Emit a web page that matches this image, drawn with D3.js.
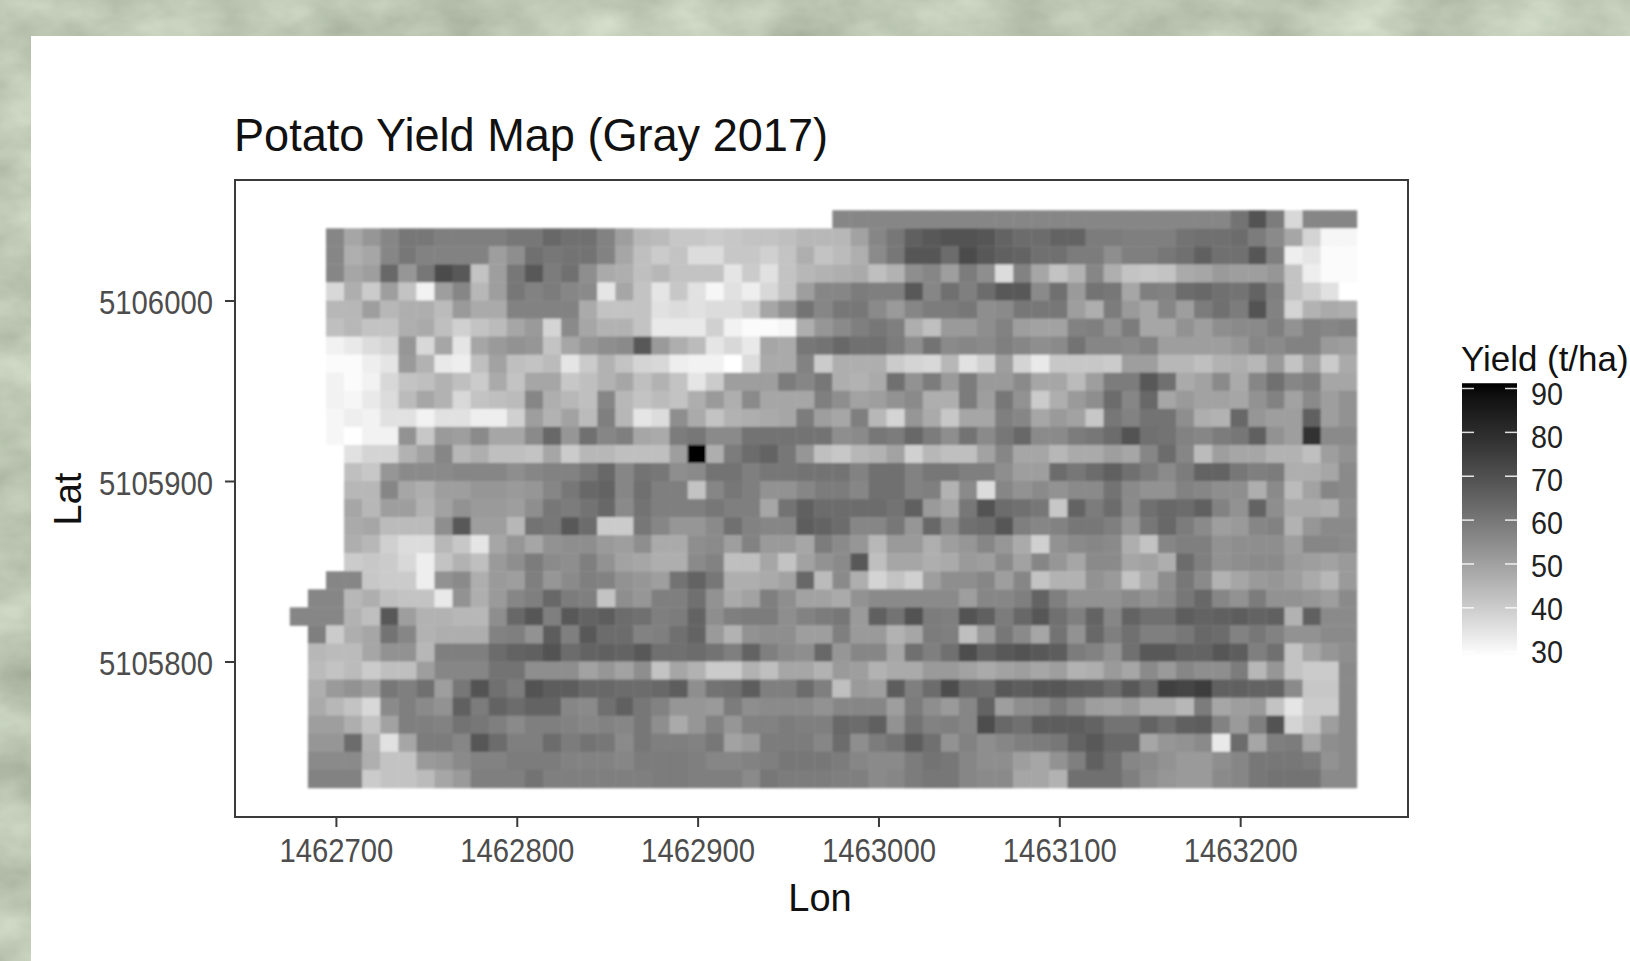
<!DOCTYPE html>
<meta charset="utf-8">
<style>
html, body { margin: 0; padding: 0; background: #bfc8b3; overflow: hidden; }
text { font-family: "Liberation Sans", Arial, sans-serif; }
</style>
<body>
<script src="https://d3js.org/d3.v7.min.js"></script>
<script>
var _ = null;

var titleText = "Potato Yield Map (Gray 2017)";
var xLabel = "Lon";
var yLabel = "Lat";
var legendTitle = "Yield (t/ha)";
var xTicks = [1462700, 1462800, 1462900, 1463000, 1463100, 1463200];
var yTicks = [5106000, 5105900, 5105800];
var legendTicks = [30, 40, 50, 60, 70, 80, 90];
var yieldRange = [28.8, 91.2];

// centre of each cell, 10 m grid
var lons = d3.range(59).map(function(i) { return 1462679.5 + i * 10; });
var lats = d3.range(32).map(function(i) { return 5106045 - i * 10; });

// yield, one line per row from north to south
var yieldRows = [
[_,_,_,_,_,_,_,_,_,_,_,_,_,_,_,_,_,_,_,_,_,_,_,_,_,_,_,_,_,_,58,58,58,58,58,58,58,58,58,58,58,58,58,58,58,58,58,58,58,58,58,58,63,72,61,38,58,58,58],
[_,_,58,50,54,58,62,62,60,60,60,60,62,62,66,64,64,59,52,46,45,42,42,41,42,43,43,44,46,46,46,51,58,62,68,70,72,72,71,67,65,65,67,67,61,61,60,60,60,63,64,64,65,61,57,50,39,31,31],
[_,_,58,48,50,58,62,59,59,59,59,52,56,64,62,63,63,59,50,44,41,43,37,37,42,42,40,43,48,43,45,48,57,62,71,71,65,74,70,68,67,64,64,61,61,56,60,60,62,64,68,64,64,71,60,33,35,30,30],
[_,_,58,50,52,66,54,62,74,70,43,52,62,70,61,64,56,49,48,44,46,43,43,43,35,41,36,43,46,47,48,49,44,47,56,58,52,61,56,37,59,50,43,47,58,48,43,42,43,49,50,53,52,52,54,43,33,30,30],
[_,_,38,48,41,52,43,32,52,58,46,52,62,59,61,58,57,35,50,43,35,42,36,31,36,33,38,43,52,58,58,61,60,60,70,58,64,60,65,70,70,57,64,53,63,62,50,60,59,65,66,64,63,67,60,43,40,36,29],
[_,_,46,46,52,46,48,48,45,53,49,49,59,59,59,59,49,43,43,43,36,37,36,37,37,40,50,55,63,58,62,62,57,53,58,61,61,62,56,57,62,62,62,52,48,61,53,50,58,52,61,64,61,72,59,39,47,49,48],
[_,_,44,46,43,43,48,49,44,40,43,45,50,53,39,57,50,47,47,43,34,34,34,40,32,30,30,31,48,54,57,60,62,60,48,44,53,53,56,59,52,51,51,59,60,55,61,50,50,55,52,56,57,57,60,55,59,58,59],
[_,_,32,34,37,39,54,38,50,35,50,53,55,54,43,50,54,56,57,70,53,48,45,35,38,34,50,49,62,63,66,64,64,61,56,63,57,58,57,60,58,56,57,63,58,58,57,59,52,52,52,52,54,58,57,59,59,53,52],
[_,_,30,30,33,35,53,47,34,33,44,51,44,43,45,35,41,47,43,39,38,33,32,32,29,37,49,49,59,41,48,48,48,41,39,38,46,36,40,52,39,34,42,42,42,41,52,52,46,46,44,47,48,46,53,43,51,41,49],
[_,_,32,30,32,38,43,44,47,44,41,49,43,50,50,42,44,47,50,44,47,43,35,41,52,52,52,61,58,62,48,47,49,64,55,61,53,61,53,53,57,50,50,45,52,61,61,70,64,49,51,57,49,58,64,58,60,50,50],
[_,_,32,31,34,37,45,50,47,38,43,44,45,58,48,46,44,58,46,43,45,43,48,53,48,57,50,50,50,60,56,51,52,55,57,48,48,61,52,62,55,41,48,53,56,65,58,66,50,53,51,51,50,55,59,51,57,52,55],
[_,_,31,33,32,36,36,32,36,36,33,33,40,52,47,51,45,60,46,35,37,56,49,43,47,48,49,50,61,52,50,60,46,39,54,49,42,50,50,60,58,50,53,51,42,62,59,63,63,56,48,47,66,54,52,52,68,52,55],
[_,_,31,29,32,32,55,42,53,52,57,50,50,57,66,54,64,58,60,50,49,61,62,57,57,63,63,63,63,63,56,57,62,61,66,61,56,63,57,62,66,57,57,61,62,65,72,64,63,59,58,61,62,68,55,52,81,57,57],
[_,_,29,36,39,39,47,51,58,46,48,44,44,43,50,41,46,46,44,44,44,52,95,48,61,65,67,62,54,44,42,46,47,51,40,46,44,44,51,58,50,50,46,49,49,52,50,58,65,58,45,52,50,50,47,47,44,52,55],
[_,_,29,44,42,54,57,57,57,58,58,58,56,58,59,59,62,66,58,63,62,56,57,63,63,60,62,62,63,63,63,59,64,64,59,62,62,60,60,56,52,52,65,62,65,68,64,61,57,61,67,67,62,60,61,48,48,50,57],
[_,_,_,46,46,58,50,48,52,52,54,54,53,54,58,62,66,67,58,64,60,60,43,58,62,60,55,55,58,61,61,58,64,64,59,60,47,57,37,58,55,57,55,57,57,63,57,55,55,59,58,56,56,48,57,45,51,58,57],
[_,_,_,50,46,52,52,47,51,55,53,53,52,56,62,61,63,66,57,63,60,60,60,62,60,60,50,63,68,65,65,65,65,63,68,53,50,62,72,65,64,62,42,67,61,65,57,64,66,65,68,59,55,67,56,49,49,48,56],
[_,_,_,49,50,45,45,45,56,70,52,52,46,63,62,70,65,41,41,62,58,54,54,57,64,59,58,58,69,67,65,58,58,62,54,66,57,64,65,71,60,58,59,62,62,60,54,62,66,61,57,52,53,58,59,47,54,57,57],
[_,_,_,48,46,40,37,37,46,42,35,50,54,50,55,56,56,53,52,56,49,49,56,57,52,59,53,53,50,61,57,54,46,53,53,48,52,54,58,54,49,40,55,57,58,57,48,43,58,60,60,55,56,56,56,52,58,58,57],
[_,_,_,41,42,41,38,33,43,47,44,53,56,61,57,56,60,55,51,50,48,48,57,59,44,44,50,43,51,55,57,70,44,50,50,48,49,53,52,57,51,58,54,50,57,57,50,51,48,65,60,55,56,57,57,53,52,51,53],
[_,_,58,58,42,41,41,33,55,57,48,53,52,60,54,57,60,59,55,54,52,63,67,62,48,48,49,51,66,45,57,48,39,43,40,52,56,56,58,52,58,43,47,47,55,53,43,49,56,62,57,47,50,53,54,52,49,46,53],
[_,58,58,46,48,44,43,43,34,55,48,53,58,60,66,61,60,43,56,54,60,60,64,55,49,51,60,56,51,51,49,55,57,57,57,57,57,52,58,58,60,67,60,55,55,55,57,55,57,62,66,58,55,61,55,55,54,52,57],
[58,58,58,47,44,70,52,47,47,46,46,56,66,71,60,70,67,69,65,64,60,61,67,56,60,61,61,56,59,61,62,53,68,63,72,61,60,72,68,61,66,71,64,60,67,58,67,64,64,69,67,68,69,67,68,47,68,57,57],
[_,60,41,48,50,63,58,47,48,48,48,59,60,55,69,60,70,65,65,59,60,64,67,53,47,55,56,56,52,52,60,53,53,47,50,61,60,44,53,62,57,50,63,55,66,60,64,60,60,62,66,65,59,62,59,55,55,57,57],
[_,46,45,45,50,55,55,46,60,60,60,65,67,68,72,65,67,68,67,70,64,64,65,63,60,67,60,57,56,66,54,58,58,50,64,60,64,73,67,70,72,70,69,61,59,55,64,70,70,67,67,71,69,60,64,43,50,54,56],
[_,45,43,45,41,44,44,52,58,58,58,63,63,56,56,56,51,54,51,56,43,50,47,41,41,47,44,50,50,47,53,52,47,49,49,53,53,51,49,51,52,50,52,47,48,53,50,57,53,58,56,56,61,46,54,43,41,41,57],
[_,48,53,55,52,62,60,64,52,62,72,64,61,72,69,69,66,66,65,65,66,69,56,63,64,69,60,60,65,60,44,53,52,69,60,65,73,65,64,70,69,71,71,69,68,65,70,65,77,76,78,68,68,67,67,57,42,42,57],
[_,49,46,43,38,57,60,57,55,68,61,67,65,67,67,58,57,64,68,62,59,54,54,53,61,56,57,57,57,55,58,58,58,52,61,56,53,58,67,52,56,57,61,57,52,51,53,49,49,46,61,50,52,53,43,35,41,41,57],
[_,52,52,48,43,51,60,60,59,63,62,60,57,60,60,59,58,59,58,62,56,49,54,59,54,59,59,61,60,60,66,65,68,55,63,59,60,58,73,66,64,69,69,69,67,63,63,67,64,68,69,59,53,60,72,39,43,52,57],
[_,54,54,65,47,36,50,61,61,58,71,65,60,60,65,61,63,62,57,62,60,60,59,62,51,53,61,61,61,58,65,56,61,63,69,64,55,59,56,58,60,61,62,67,70,66,66,50,54,55,57,34,65,50,60,61,50,56,57],
[_,57,57,57,48,43,43,53,54,57,59,59,61,61,61,59,59,59,58,61,61,61,60,58,58,59,60,62,62,62,61,58,57,57,61,63,62,58,56,56,52,50,55,60,68,64,58,57,55,53,53,56,58,62,62,62,61,55,57],
[_,59,59,59,41,43,43,45,50,53,60,60,60,63,60,60,60,60,60,60,61,61,60,60,60,57,62,61,61,61,60,60,57,58,61,62,62,58,57,57,50,50,47,64,64,64,60,56,54,53,53,57,58,62,63,63,63,57,57]
];

var pageW = 1630, pageH = 961;
var panel = {left: 235, top: 180, right: 1408, bottom: 817};

var svg = d3.select("body").append("svg")
    .attr("width", pageW)
    .attr("height", pageH)
    .style("display", "block");

// mottled slide background behind the white plot sheet
var defs = svg.append("defs");
var noise = defs.append("filter").attr("id", "mottle")
    .attr("x", 0).attr("y", 0).attr("width", "100%").attr("height", "100%")
    .attr("color-interpolation-filters", "sRGB");
noise.append("feTurbulence")
    .attr("type", "fractalNoise")
    .attr("baseFrequency", "0.012 0.02")
    .attr("numOctaves", 4)
    .attr("seed", 7);
noise.append("feColorMatrix")
    .attr("type", "matrix")
    .attr("values", "0.25 0 0 0 0.615  0.25 0 0 0 0.655  0.25 0 0 0 0.575  0 0 0 0 1");

// the scan is soft, so the cells get a slight blur
defs.append("filter").attr("id", "soft")
    .append("feGaussianBlur")
    .attr("stdDeviation", 0.9);

svg.append("rect")
    .attr("width", pageW).attr("height", pageH)
    .attr("filter", "url(#mottle)");

svg.append("rect")
    .attr("x", 31).attr("y", 36)
    .attr("width", pageW - 31).attr("height", pageH - 36)
    .attr("fill", "#fff");

var x = d3.scaleLinear()
    .domain([1462644.2, 1463292.8])
    .range([panel.left, panel.right]);

var y = d3.scaleLinear()
    .domain([5106000, 5105800])
    .range([300.5, 661.5]);

var color = d3.scaleLinear()
    .domain(yieldRange)
    .range(["#ffffff", "#000000"])
    .interpolate(d3.interpolateLab);

// my grey readings came out a little dark, cells use a slightly lighter ramp
var cellColor = d3.scaleLinear()
    .domain([29, 95])
    .range(["#ffffff", "#000000"])
    .interpolate(d3.interpolateLab);

// flatten rows into cells
var cells = [];
yieldRows.forEach(function(row, r) {
  row.forEach(function(v, c) {
    if (v !== null) cells.push({lon: lons[c], lat: lats[r], value: v});
  });
});

svg.append("g")
    .attr("filter", "url(#soft)")
  .selectAll("rect")
    .data(cells)
  .enter().append("rect")
    .attr("x", function(d) { return x(d.lon - 5); })
    .attr("y", function(d) { return y(d.lat + 5); })
    .attr("width", x(10) - x(0) + 0.4)
    .attr("height", y(0) - y(10) + 0.4)
    .style("fill", function(d) { return cellColor(d.value); });

// panel border
svg.append("rect")
    .attr("x", panel.left).attr("y", panel.top)
    .attr("width", panel.right - panel.left)
    .attr("height", panel.bottom - panel.top)
    .attr("fill", "none")
    .attr("stroke", "#3a3a3a")
    .attr("stroke-width", 2);

// axes
var xAxis = svg.append("g")
    .attr("transform", "translate(0," + panel.bottom + ")")
    .call(d3.axisBottom(x).tickValues(xTicks).tickFormat(d3.format("d")).tickSize(10));
xAxis.select(".domain").remove();
xAxis.selectAll("line").attr("stroke", "#3a3a3a").attr("stroke-width", 2);
xAxis.selectAll("text")
    .attr("y", 45).attr("dy", 0)
    .attr("fill", "#4d4d4d")
    .attr("font-size", 34)
    .attr("textLength", 114)
    .attr("lengthAdjust", "spacingAndGlyphs")
    .style("font-family", "Liberation Sans");

var yAxis = svg.append("g")
    .attr("transform", "translate(" + panel.left + ",0)")
    .call(d3.axisLeft(y).tickValues(yTicks).tickFormat(d3.format("d")).tickSize(10));
yAxis.select(".domain").remove();
yAxis.selectAll("line").attr("stroke", "#3a3a3a").attr("stroke-width", 2);
yAxis.selectAll("text")
    .attr("x", -22)
    .attr("dy", "0.39em")
    .attr("fill", "#4d4d4d")
    .attr("font-size", 34)
    .attr("textLength", 114)
    .attr("lengthAdjust", "spacingAndGlyphs")
    .style("font-family", "Liberation Sans");

// title and axis titles
svg.append("text")
    .attr("x", panel.left - 1).attr("y", 151)
    .attr("font-size", 46)
    .attr("textLength", 594)
    .attr("lengthAdjust", "spacingAndGlyphs")
    .attr("fill", "#111")
    .text(titleText);

svg.append("text")
    .attr("x", 820).attr("y", 911)
    .attr("text-anchor", "middle")
    .attr("font-size", 38)
    .attr("fill", "#111")
    .text(xLabel);

svg.append("text")
    .attr("transform", "translate(81,499) rotate(-90)")
    .attr("text-anchor", "middle")
    .attr("font-size", 38)
    .attr("fill", "#111")
    .text(yLabel);

// colourbar legend
var legend = {left: 1462, right: 1517};
var legendY = d3.scaleLinear()
    .domain([30, 90])
    .range([651.7, 388.5]);
// the labels sit a bit tighter than the ticks in the reference
var legendLabelY = d3.scaleLinear()
    .domain([30, 90])
    .range([652, 394]);

var grad = defs.append("linearGradient")
    .attr("id", "bar")
    .attr("x1", 0).attr("x2", 0).attr("y1", 1).attr("y2", 0);
d3.range(0, 1.001, 0.05).forEach(function(t) {
  grad.append("stop")
      .attr("offset", t)
      .attr("stop-color", color(yieldRange[0] + t * (yieldRange[1] - yieldRange[0])));
});

svg.append("rect")
    .attr("x", legend.left)
    .attr("y", legendY(yieldRange[1]))
    .attr("width", legend.right - legend.left)
    .attr("height", legendY(yieldRange[0]) - legendY(yieldRange[1]))
    .attr("fill", "url(#bar)");

var lt = svg.append("g").selectAll("g")
    .data(legendTicks)
  .enter().append("g");

lt.append("line")
    .attr("x1", legend.left).attr("x2", legend.left + 12)
    .attr("y1", function(d) { return legendY(d); })
    .attr("y2", function(d) { return legendY(d); })
    .attr("stroke", "#fff").attr("stroke-width", 1.5).attr("opacity", 0.85);

lt.append("line")
    .attr("x1", legend.right - 12).attr("x2", legend.right)
    .attr("y1", function(d) { return legendY(d); })
    .attr("y2", function(d) { return legendY(d); })
    .attr("stroke", "#fff").attr("stroke-width", 1.5).attr("opacity", 0.85);

lt.append("text")
    .attr("x", 1531)
    .attr("y", function(d) { return legendLabelY(d); })
    .attr("dy", "0.36em")
    .attr("font-size", 31)
    .attr("textLength", 32)
    .attr("lengthAdjust", "spacingAndGlyphs")
    .attr("fill", "#222")
    .text(function(d) { return d; });

// squeezed with a transform so the whole title stays on the page
svg.append("text")
    .attr("transform", "translate(1461,371) scale(0.97,1)")
    .attr("font-size", 36)
    .attr("fill", "#111")
    .text(legendTitle);
</script>
</body>
